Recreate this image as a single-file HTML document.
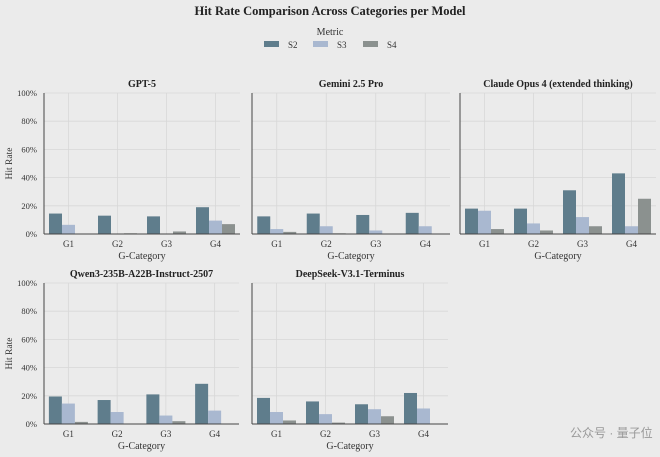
<!DOCTYPE html>
<html><head><meta charset="utf-8"><style>
body{margin:0;background:#ebebeb;}
svg{display:block;font-family:"Liberation Serif",serif;}
</style></head><body>
<svg id="s" width="660" height="457" xmlns="http://www.w3.org/2000/svg">
<rect width="660" height="457" fill="#ebebeb"/>
<text x="330" y="15" text-anchor="middle" font-size="12.5" font-weight="bold" fill="#222">Hit Rate Comparison Across Categories per Model</text>
<text x="330" y="35" text-anchor="middle" font-size="10" fill="#333">Metric</text>
<rect x="264" y="41" width="15" height="6" fill="#5f7d8c"/><text x="288" y="48" font-size="9" fill="#333">S2</text>
<rect x="313" y="41" width="15" height="6" fill="#a9b8d0"/><text x="337" y="48" font-size="9" fill="#333">S3</text>
<rect x="363" y="41" width="15" height="6" fill="#8b918f"/><text x="387" y="48" font-size="9" fill="#333">S4</text>
<text x="570" y="437" font-family="Liberation Sans,Noto Sans CJK SC,sans-serif" font-size="12" fill="#999">公众号 · 量子位</text>
</svg>
<script>
const s=document.getElementById('s');
const NS='http://www.w3.org/2000/svg';
function el(t,a,txt){const e=document.createElementNS(NS,t);for(const k in a)e.setAttribute(k,a[k]);if(txt!==undefined)e.textContent=txt;s.appendChild(e);return e;}
const cols=['#5f7d8c','#a9b8d0','#8b918f'];
const panels=[
 {x:44,w:196,top:93,bot:234,t:'GPT-5',ty:87,yl:true,d:[[14.5,6.5,0.3],[13,0.3,0.5],[12.5,0,1.8],[19,9.5,7]]},
 {x:252,w:198,top:93,bot:234,t:'Gemini 2.5 Pro',ty:87,yl:false,d:[[12.5,3.5,1.5],[14.5,5.5,0.5],[13.5,2.5,0],[15,5.5,0]]},
 {x:460,w:196,top:93,bot:234,t:'Claude Opus 4 (extended thinking)',ty:87,yl:false,d:[[18,16.5,3.5],[18,7.5,2.5],[31,12,5.5],[43,5.5,25]]},
 {x:44,w:195,top:283,bot:424,t:'Qwen3-235B-A22B-Instruct-2507',ty:277,yl:true,d:[[19.5,14.5,1.5],[17,8.5,0],[21,6,2],[28.5,9.5,0]]},
 {x:252,w:196,top:283,bot:424,t:'DeepSeek-V3.1-Terminus',ty:277,yl:false,d:[[18.5,8.5,2.5],[16,7,1],[14,10.5,5.5],[22,11,0]]},
];
panels.forEach(p=>{
 const h=p.bot-p.top, step=p.w/4;
 for(let i=0;i<=5;i++){const y=p.bot-h*i/5;
  el('line',{x1:p.x,x2:p.x+p.w,y1:y,y2:y,stroke:'#d8d8d8','stroke-width':0.8});
  if(p.yl)el('text',{x:37,y:y+3,'text-anchor':'end','font-size':8.5,fill:'#333'},(i*20)+'%');}
 for(let g=0;g<4;g++){const cx=p.x+step*(g+0.5);
  el('line',{x1:cx,x2:cx,y1:p.top,y2:p.bot,stroke:'#d8d8d8','stroke-width':0.8});
  p.d[g].forEach((v,k)=>{const bh=h*v/100;el('rect',{x:cx-19.5+k*13,y:p.bot-bh,width:13,height:bh,fill:cols[k]});});
  el('text',{x:cx,y:p.bot+13,'text-anchor':'middle','font-size':9,fill:'#333'},'G'+(g+1));}
 el('line',{x1:p.x,x2:p.x,y1:p.top,y2:p.bot,stroke:'#444','stroke-width':1});
 el('line',{x1:p.x,x2:p.x+p.w,y1:p.bot,y2:p.bot,stroke:'#444','stroke-width':1});
 el('text',{x:p.x+p.w/2,y:p.ty,'text-anchor':'middle','font-size':10,'font-weight':'bold',fill:'#222'},p.t);
 el('text',{x:p.x+p.w/2,y:p.bot+25,'text-anchor':'middle','font-size':10,fill:'#333'},'G-Category');
 if(p.yl){const cy=(p.top+p.bot)/2;el('text',{x:12,y:cy,'text-anchor':'middle','font-size':9.5,fill:'#333',transform:'rotate(-90 12 '+cy+')'},'Hit Rate');}
});
</script>
</body></html>
